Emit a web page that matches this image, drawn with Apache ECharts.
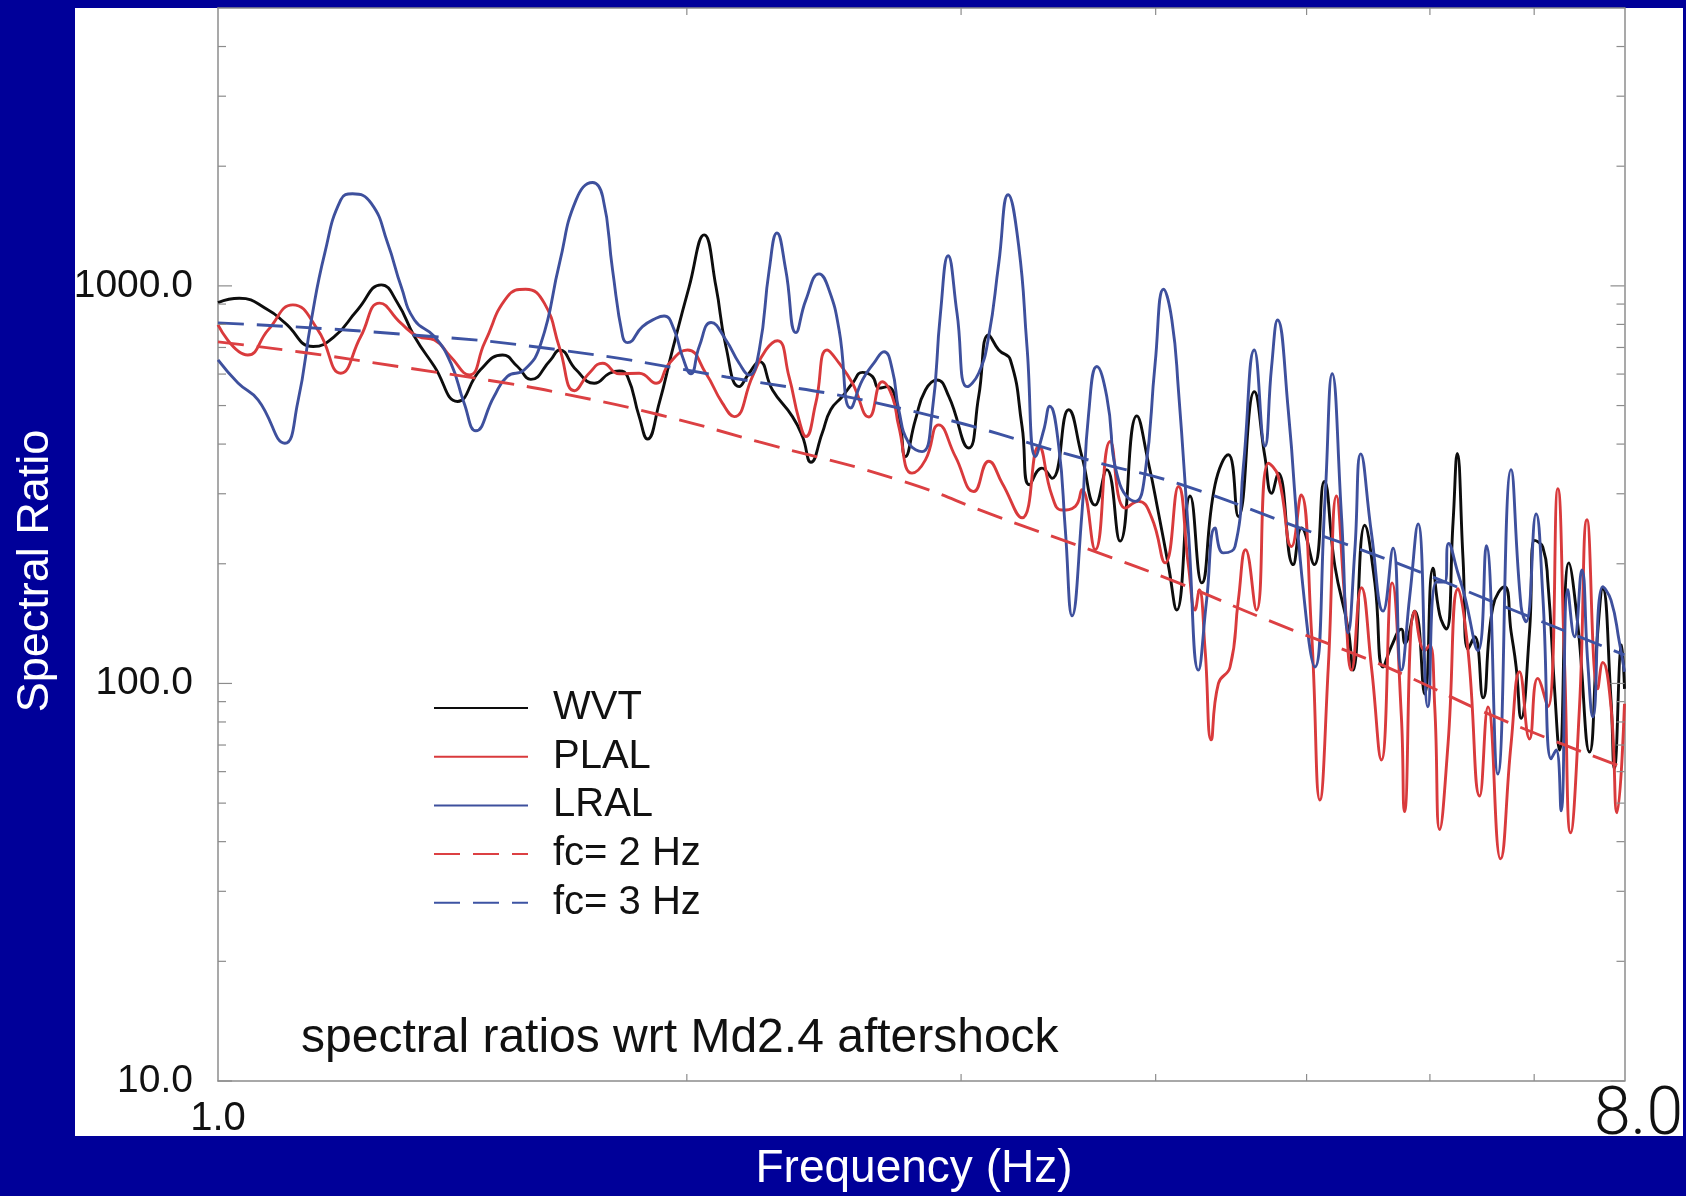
<!DOCTYPE html>
<html>
<head>
<meta charset="utf-8">
<script src="https://cdn.jsdelivr.net/npm/echarts@6/dist/echarts.min.js"></script>
<style>
html,body{margin:0;padding:0;background:#000099;}
#c{width:1686px;height:1196px;}
</style>
</head>
<body>
<div id="c"></div>
<script>
// ---------- data ----------
const seriesNames = ['WVT', 'PLAL', 'LRAL', 'fc= 2 Hz', 'fc= 3 Hz'];
const xLabelValues = [1, 8];
const yLabelValues = [10, 100, 1000];
const yMinorTicks = [20, 30, 40, 50, 60, 70, 80, 90, 200, 300, 400, 500, 600, 700, 800, 900, 2000, 3000, 4000];
const xMinorTicks = [2, 3, 4, 5, 6, 7];
const xTitle = 'Frequency (Hz)';
const yTitle = 'Spectral Ratio';
const note = 'spectral ratios wrt Md2.4 aftershock';

const wvt = [[1.000,908],[1.032,931],[1.077,870],[1.104,807],[1.151,704],[1.188,746],[1.229,870],[1.273,1006],[1.304,906],[1.337,746],[1.377,627],[1.425,512],[1.474,615],[1.523,670],[1.557,627],[1.588,582],[1.635,651],[1.657,690],[1.698,615],[1.744,569],[1.784,603],[1.810,611],[1.832,592],[1.864,469],[1.887,412],[1.920,507],[1.958,690],[2.007,996],[2.052,1344],[2.088,996],[2.119,704],[2.161,558],[2.193,603],[2.226,645],[2.270,547],[2.338,469],[2.373,418],[2.403,360],[2.443,426],[2.474,488],[2.517,527],[2.555,569],[2.593,606],[2.631,592],[2.657,553],[2.690,558],[2.736,474],[2.763,372],[2.804,460],[2.846,547],[2.895,580],[2.946,527],[3.034,391],[3.079,527],[3.125,753],[3.172,690],[3.227,651],[3.283,443],[3.319,316],[3.381,348],[3.432,328],[3.517,488],[3.587,372],[3.658,281],[3.721,345],[3.795,228],[3.890,471],[3.958,358],[4.017,268],[4.077,197],[4.127,153],[4.209,296],[4.282,179],[4.367,316],[4.454,376],[4.520,263],[4.628,542],[4.701,372],[4.748,301],[4.795,338],[4.902,199],[4.963,246],[5.057,199],[5.132,322],[5.214,197],[5.317,137],[5.356,108],[5.449,250],[5.531,179],[5.599,110],[5.668,124],[5.752,137],[5.781,126],[5.867,152],[5.954,94.1],[6.027,195],[6.087,149],[6.147,137],[6.209,255],[6.248,379],[6.301,206],[6.348,122],[6.411,131],[6.490,92.0],[6.586,156],[6.700,175],[6.765,135],[6.816,110],[6.866,81.7],[6.952,135],[7.004,229],[7.090,220],[7.143,180],[7.214,96.9],[7.267,68.0],[7.368,201],[7.467,140],[7.597,67.2],[7.690,135],[7.747,173],[7.842,90.9],[7.881,61.1],[7.967,125],[8.0,96.9]];

const plal = [[1.000,798],[1.045,670],[1.077,775],[1.117,896],[1.159,775],[1.199,603],[1.235,746],[1.270,905],[1.310,807],[1.344,746],[1.377,731],[1.410,664],[1.450,597],[1.483,719],[1.534,940],[1.576,981],[1.620,905],[1.657,698],[1.694,545],[1.731,603],[1.766,639],[1.810,601],[1.864,603],[1.911,569],[1.949,639],[2.002,690],[2.057,603],[2.108,507],[2.145,469],[2.204,592],[2.248,690],[2.287,728],[2.326,592],[2.361,460],[2.385,418],[2.420,507],[2.461,690],[2.505,639],[2.555,569],[2.618,468],[2.670,574],[2.710,527],[2.736,443],[2.790,338],[2.846,365],[2.902,447],[2.975,372],[3.057,304],[3.125,362],[3.188,319],[3.283,261],[3.365,395],[3.432,296],[3.483,273],[3.552,279],[3.587,307],[3.658,217],[3.740,406],[3.824,276],[3.900,287],[3.977,261],[4.057,201],[4.137,313],[4.199,197],[4.240,153],[4.266,172],[4.303,122],[4.342,72.1],[4.389,100],[4.465,110],[4.520,162],[4.569,217],[4.643,153],[4.725,358],[4.795,332],[4.890,221],[4.959,298],[5.037,134],[5.099,50.9],[5.163,110],[5.226,296],[5.291,162],[5.343,108],[5.422,174],[5.503,110],[5.585,64.2],[5.674,179],[5.752,82.6],[5.779,47.6],[5.867,152],[5.954,121],[5.998,125],[6.043,87.3],[6.087,42.9],[6.163,70.5],[6.255,173],[6.348,121],[6.458,52.1],[6.538,87.3],[6.660,36.2],[6.765,70.5],[6.850,107],[6.952,72.5],[7.037,103],[7.143,87.3],[7.249,309],[7.321,113],[7.387,42.1],[7.485,87.3],[7.569,258],[7.690,96.9],[7.747,113],[7.842,87.3],[7.912,47.3],[8.0,88.9]];

const lral = [[1.000,651],[1.030,570],[1.061,517],[1.104,402],[1.125,508],[1.148,821],[1.171,1209],[1.199,1646],[1.220,1705],[1.254,1615],[1.285,1282],[1.311,996],[1.337,821],[1.377,746],[1.411,639],[1.439,507],[1.464,432],[1.504,527],[1.534,592],[1.573,615],[1.612,717],[1.657,1143],[1.698,1646],[1.740,1820],[1.766,1678],[1.792,1097],[1.819,746],[1.832,720],[1.873,790],[1.911,829],[1.934,840],[1.963,775],[1.987,664],[2.012,601],[2.037,704],[2.073,809],[2.119,731],[2.161,639],[2.193,597],[2.226,690],[2.259,1097],[2.285,1358],[2.315,1097],[2.350,763],[2.385,922],[2.432,1072],[2.468,977],[2.505,775],[2.548,493],[2.593,580],[2.637,639],[2.677,683],[2.710,615],[2.736,488],[2.777,402],[2.832,383],[2.874,479],[2.910,854],[2.943,1191],[2.982,854],[3.027,558],[3.079,603],[3.125,746],[3.172,1141],[3.216,1695],[3.267,1256],[3.307,704],[3.349,372],[3.390,434],[3.420,498],[3.466,395],[3.500,243],[3.535,148],[3.587,268],[3.623,479],[3.667,627],[3.721,527],[3.786,325],[3.881,287],[3.938,338],[3.997,639],[4.047,981],[4.097,821],[4.137,547],[4.199,239],[4.261,108],[4.313,162],[4.367,246],[4.421,213],[4.498,221],[4.554,352],[4.628,690],[4.701,395],[4.748,627],[4.790,821],[4.866,488],[4.963,189],[5.062,110],[5.138,290],[5.193,601],[5.265,263],[5.317,134],[5.370,217],[5.417,378],[5.503,239],[5.599,152],[5.682,219],[5.752,108],[5.824,166],[5.896,252],[5.983,87.3],[6.057,180],[6.132,180],[6.168,225],[6.255,189],[6.316,166],[6.442,121],[6.522,222],[6.634,59.2],[6.765,345],[6.866,156],[6.917,143],[7.020,267],[7.090,166],[7.178,64.6],[7.231,68.0],[7.284,47.8],[7.357,172],[7.430,131],[7.511,193],[7.577,113],[7.634,82.4],[7.747,175],[7.842,162],[7.940,127],[8.0,107]];

const fc2 = [[1.000,723],[1.129,682],[1.308,626],[1.516,573],[1.657,538],[1.920,474],[2.226,405],[2.736,325],[3.172,262],[3.676,213],[4.137,179],[4.726,144],[5.477,115],[5.809,104],[6.634,81.9],[8.0,61.3]];

const fc3 = [[1.000,807],[1.308,757],[1.657,690],[2.120,590],[2.736,493],[3.676,359],[4.137,318],[4.939,247],[5.748,199],[6.783,153],[8.0,118]];

// ---------- chart ----------
const FONT = '"Liberation Sans", Arial, Helvetica, sans-serif';
const AXIS_COLOR = '#8c8c8c';
const chart = echarts.init(document.getElementById('c'), null, {renderer: 'canvas', width: 1686, height: 1196});

function near(a, b) { return Math.abs(a - b) < 1e-3 * Math.max(1, b); }

function lineSeries(name, data, color, dashed) {
  return {
    type: 'line', name: name, data: data,
    symbol: 'none', showSymbol: false,
    smooth: 0.5,
    lineStyle: {color: color, width: 2.9, type: dashed ? [26, 13] : 'solid'},
    itemStyle: {color: color},
    emphasis: {disabled: true},
    silent: true
  };
}

const logAxisBase = {type: 'log', logBase: 10, splitLine: {show: false}, axisTick: {show: false},
  axisLine: {show: true, lineStyle: {color: AXIS_COLOR, width: 1.5}}, minorTick: {show: false}};

const option = {
  backgroundColor: '#000099',
  animation: false,
  graphic: [
    {type: 'rect', z: -10, silent: true, shape: {x: 75, y: 8, width: 1608, height: 1128}, style: {fill: '#ffffff'}},
    {type: 'rect', z: 100, silent: true, shape: {x: 0, y: 0, width: 75, height: 1196}, style: {fill: '#000099'}},
    {type: 'text', z: 101, silent: true, x: 36, y: 571, rotation: Math.PI / 2,
      style: {text: yTitle, fill: '#ffffff', fontSize: 45, fontFamily: FONT, align: 'center', verticalAlign: 'middle'}},
    {type: 'text', z: 101, silent: true, x: 914, y: 1169,
      style: {text: xTitle, fill: '#ffffff', fontSize: 46, fontFamily: FONT, align: 'center', verticalAlign: 'middle'}},
    {type: 'text', z: 50, silent: true, x: 301, y: 1039,
      style: {text: note, fill: '#111111', fontSize: 48, fontFamily: FONT, align: 'left', verticalAlign: 'middle'}}
  ],
  grid: {left: 218, right: 59, top: 8, bottom: 115, show: false},
  legend: {
    data: seriesNames, orient: 'vertical', left: 433, top: 688, padding: 0,
    itemWidth: 94, itemHeight: 14, itemGap: 8.7, selectedMode: false,
    itemStyle: {opacity: 0},
    textStyle: {fontSize: 40, lineHeight: 40, color: '#111111', fontFamily: FONT, padding: [0, 0, 0, 20]}
  },
  xAxis: [
    Object.assign({}, logAxisBase, {
      position: 'bottom', min: 1, max: 8,
      axisLabel: {
        show: true, margin: 18, showMinLabel: true, showMaxLabel: true,
        formatter: function (v) {
          if (near(v, xLabelValues[0])) return '{a|' + xLabelValues[0].toFixed(1) + '}';
          if (near(v, xLabelValues[1])) return '{b|' + xLabelValues[1].toFixed(1) + '}';
          return '';
        },
        rich: {
          a: {fontSize: 40, fontFamily: FONT, color: '#111111'},
          b: {fontSize: 66, fontFamily: 'Roboto', fontWeight: 300, color: '#111111', lineHeight: 36, padding: [0, 0, 0, 28]}
        }
      }
    }),
    Object.assign({}, logAxisBase, {position: 'top', min: 1, max: 8, axisLabel: {show: false}})
  ],
  yAxis: [
    Object.assign({}, logAxisBase, {
      position: 'left', min: 10, max: 5000,
      axisLabel: {
        show: true, margin: 25, fontSize: 39, fontFamily: FONT, color: '#111111',
        formatter: function (v) {
          for (const t of yLabelValues) if (near(v, t)) return t.toFixed(1);
          return '';
        }
      }
    }),
    Object.assign({}, logAxisBase, {position: 'right', min: 10, max: 5000, axisLabel: {show: false}})
  ],
  series: [
    lineSeries(seriesNames[0], wvt, '#0d0d0d', false),
    lineSeries(seriesNames[1], plal, '#d93a3c', false),
    lineSeries(seriesNames[2], lral, '#3e509d', false),
    lineSeries(seriesNames[3], fc2, '#dc4043', true),
    lineSeries(seriesNames[4], fc3, '#3d53a3', true),
    {
      type: 'custom', name: 'yTicks', xAxisIndex: 0, yAxisIndex: 0, clip: false, silent: true, z: 5,
      data: yLabelValues.map(function (v) { return [1, v, 1]; }).concat(yMinorTicks.map(function (v) { return [1, v, 0]; })),
      renderItem: function (params, api) {
        const cs = params.coordSys;
        const y = api.coord([1, api.value(1)])[1];
        const len = api.value(2) ? 14 : 8;
        const st = {stroke: AXIS_COLOR, lineWidth: 1.2};
        return {type: 'group', children: [
          {type: 'line', shape: {x1: cs.x, y1: y, x2: cs.x + len, y2: y}, style: st},
          {type: 'line', shape: {x1: cs.x + cs.width, y1: y, x2: cs.x + cs.width - len, y2: y}, style: st}
        ]};
      }
    },
    {
      type: 'custom', name: 'xTicks', xAxisIndex: 0, yAxisIndex: 0, clip: false, silent: true, z: 5,
      data: xMinorTicks.map(function (v) { return [v, 10]; }),
      renderItem: function (params, api) {
        const cs = params.coordSys;
        const x = api.coord([api.value(0), 10])[0];
        const st = {stroke: AXIS_COLOR, lineWidth: 1.2};
        return {type: 'group', children: [
          {type: 'line', shape: {x1: x, y1: cs.y + cs.height, x2: x, y2: cs.y + cs.height - 7}, style: st},
          {type: 'line', shape: {x1: x, y1: cs.y, x2: x, y2: cs.y + 7}, style: st}
        ]};
      }
    }
  ]
};
chart.setOption(option);
</script>
</body>
</html>
